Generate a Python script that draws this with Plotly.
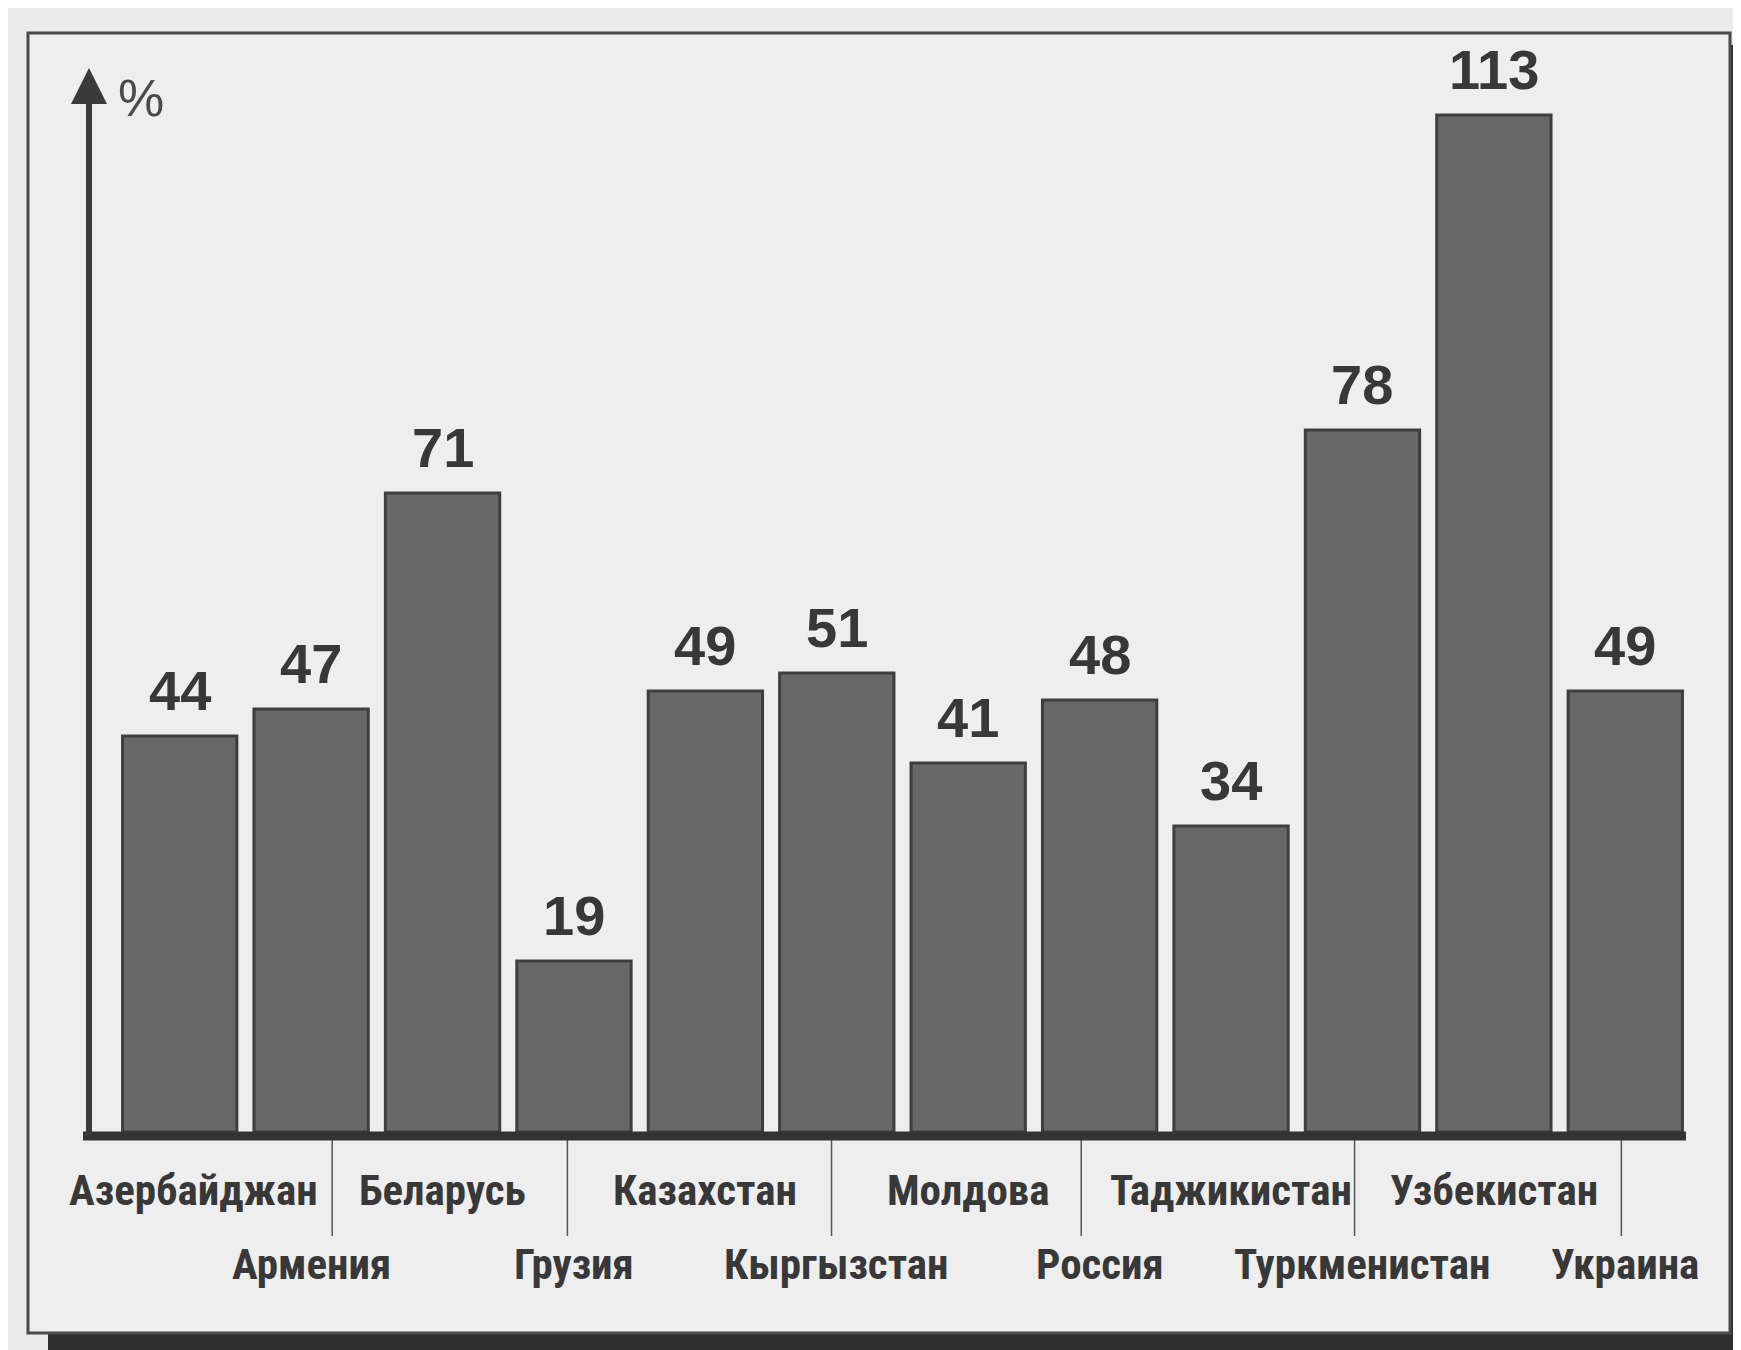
import plotly.graph_objects as go

countries = ["Азербайджан", "Армения", "Беларусь", "Грузия", "Казахстан", "Кыргызстан",
             "Молдова", "Россия", "Таджикистан", "Туркменистан", "Узбекистан", "Украина"]
values = [44, 47, 71, 19, 49, 51, 41, 48, 34, 78, 113, 49]
y_unit = "%"

W, H = 1741, 1350
OFF = 8  # page body margin of the html page
# target screen positions of the plot area
SX0, SX1, SY0, SY1 = 114, 1691, 70, 1132
ML = SX0 - OFF
MR = W - (SX1 - OFF)
MT = SY0 - OFF
MB = H - (SY1 - OFF)
PW = SX1 - SX0
PH = SY1 - SY0
YMAX = 118

def px(x):
    return (x - SX0) / PW

def py(y):
    return (SY1 - y) / PH

TXT = "#383838"
BG = "#ebebeb"

fig = go.Figure()
fig.add_trace(go.Bar(
    x=countries, y=values,
    marker=dict(color="#686868", line=dict(color="#3e3e3e", width=3)),
    width=0.87,
    hoverinfo="x+y",
))

annotations = []
for c, v in zip(countries, values):
    annotations.append(dict(
        x=c, y=v, xref="x", yref="y", text=f"<b>{v}</b>", showarrow=False,
        yanchor="bottom", yshift=12,
        font=dict(family="Liberation Sans, Arial, sans-serif", size=56, color=TXT),
    ))

# leader lines from the axis down to the second-row labels (slight offsets as in the print)
leader_offsets = [0.16, -0.05, -0.04, -0.14, -0.06, -0.03]
shapes = []
k = 0
for i, c in enumerate(countries):
    row2 = i % 2 == 1
    annotations.append(dict(
        x=c, xref="x", y=py(1264) if row2 else py(1190), yref="paper",
        text=f"<b>{c}</b>", showarrow=False, xanchor="center", yanchor="middle",
        xshift=(14 if i == 0 else 0),
        font=dict(family="Liberation Sans Narrow, Roboto Condensed, Liberation Sans, Arial", size=43, color=TXT),
    ))
    if row2:
        xl = i + leader_offsets[k]
        k += 1
        shapes.append(dict(type="line", xref="x", yref="paper", x0=xl, x1=xl,
                           y0=py(1140), y1=py(1236), line=dict(color="#555555", width=1.5)))

# y axis arrow
annotations.append(dict(
    x=px(89), y=py(68), xref="paper", yref="paper", ax=0, ay=1138 - 68,
    axref="pixel", ayref="pixel", text="", showarrow=True, arrowhead=2,
    arrowsize=1.2, arrowwidth=6, arrowcolor="#3a3a3a", standoff=0,
))
annotations.append(dict(
    x=px(116), y=py(98), xref="paper", yref="paper", text=y_unit, showarrow=False,
    xanchor="left", yanchor="middle",
    font=dict(family="Liberation Sans, Arial, sans-serif", size=52, color="#4a4a4a"),
))

# shadow of the frame
shapes.insert(0, dict(type="rect", xref="paper", yref="paper", layer="below",
                      x0=px(1730), x1=px(1780), y0=py(1380), y1=py(45),
                      fillcolor="#2e2e2e", line=dict(width=0)))
shapes.insert(0, dict(type="rect", xref="paper", yref="paper", layer="below",
                      x0=px(48), x1=px(1780), y0=py(1380), y1=py(1333),
                      fillcolor="#2e2e2e", line=dict(width=0)))
# frame
shapes.append(dict(type="rect", xref="paper", yref="paper", layer="below",
                   x0=px(28), x1=px(1730), y0=py(1333), y1=py(33),
                   fillcolor="#eeeeee", line=dict(color="#4a4a4a", width=3)))
# baseline
shapes.append(dict(type="line", xref="paper", yref="paper",
                   x0=px(83), x1=px(1686), y0=py(1136), y1=py(1136),
                   line=dict(color="#333333", width=9)))

fig.update_layout(
    width=W, height=H,
    margin=dict(l=ML, r=MR, t=MT, b=MB),
    paper_bgcolor=BG, plot_bgcolor="rgba(0,0,0,0)",
    showlegend=False,
    xaxis=dict(range=[-0.5, len(countries) - 0.5], showticklabels=False, showgrid=False,
               zeroline=False, showline=False, ticks="",
               categoryorder="array", categoryarray=countries),
    yaxis=dict(range=[0, YMAX], showticklabels=False, showgrid=False, zeroline=False,
               showline=False, ticks=""),
    annotations=annotations,
    shapes=shapes,
)

fig.write_html("out.html")
